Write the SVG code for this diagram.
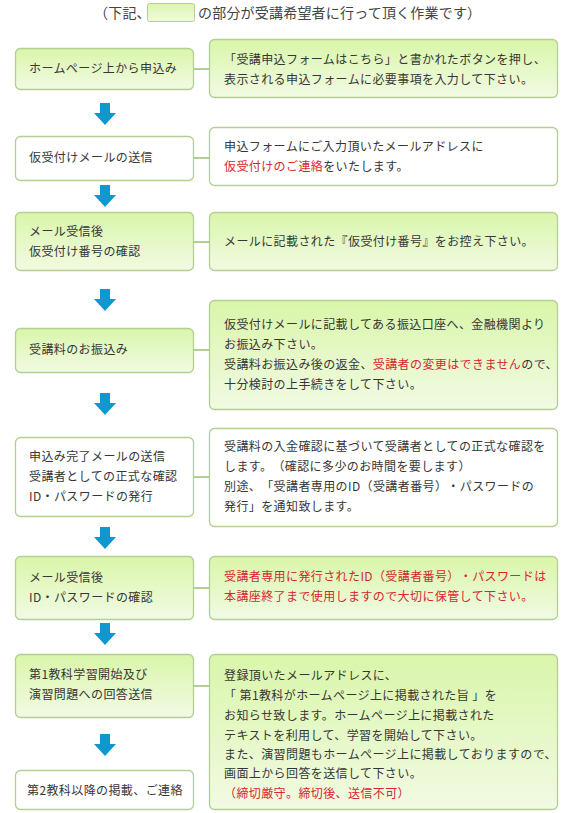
<svg xmlns="http://www.w3.org/2000/svg" width="575" height="813" viewBox="0 0 575 813">
<defs>
<linearGradient id="g" x1="0" y1="0" x2="0" y2="1">
<stop offset="0" stop-color="#d9f6a9"/>
<stop offset="1" stop-color="#f2fae4"/>
</linearGradient>
<path id="arr" d="M-5,0 H5 V10 H11 L0,22 L-11,10 H-5 Z"/>
</defs>
<style>
text{font-family:"Noto Sans CJK JP","Noto Sans",sans-serif;font-size:12px;fill:#363636;letter-spacing:0.4px;text-spacing-trim:space-all}
.hd{font-size:14px;fill:#444;letter-spacing:0.2px}
.r{fill:#d7262d}
.gb{fill:url(#g);stroke:#b3cf93;stroke-width:1.3}
.wb{fill:#fff;stroke:#b3cf93;stroke-width:1.3}
.ar{fill:#0e98cd}
.cn{stroke:#b3cf93;stroke-width:2;fill:none}
</style>
<rect width="575" height="813" fill="#fff"/>
<g id="header">
<text class="hd" x="94" y="18">（下記、</text>
<rect x="147.5" y="3.5" width="47" height="18" rx="2" fill="url(#g)" stroke="#b3cf93"/>
<text class="hd" x="198" y="18">の部分が受講希望者に行って頂く作業です）</text>
</g>
<g id="connectors">
<line class="cn" x1="194" y1="69" x2="209" y2="69"/>
<line class="cn" x1="194" y1="158" x2="209" y2="158"/>
<line class="cn" x1="194" y1="242" x2="209" y2="242"/>
<line class="cn" x1="194" y1="350" x2="209" y2="350"/>
<line class="cn" x1="194" y1="477" x2="209" y2="477"/>
<line class="cn" x1="194" y1="588" x2="209" y2="588"/>
<line class="cn" x1="194" y1="686" x2="209" y2="686"/>
<use class="ar" href="#arr" x="105" y="103"/>
<use class="ar" href="#arr" x="105" y="185"/>
<use class="ar" href="#arr" x="105" y="289"/>
<use class="ar" href="#arr" x="105" y="393"/>
<use class="ar" href="#arr" x="105" y="527"/>
<use class="ar" href="#arr" x="105" y="623"/>
<use class="ar" href="#arr" x="105" y="734"/>
</g>
<g id="n1">
<rect class="gb" x="15.5" y="48.5" width="178" height="41" rx="5"/>
<text x="29" y="73">ホームページ上から申込み</text>
</g>
<g id="d1">
<rect class="gb" x="209.5" y="39.5" width="348" height="58" rx="5"/>
<text x="224" y="64">「受講申込フォームはこちら」と書かれたボタンを押し、</text>
<text x="224" y="84">表示される申込フォームに必要事項を入力して下さい。</text>
</g>
<g id="n2">
<rect class="wb" x="15.5" y="136.5" width="178" height="44" rx="5"/>
<text x="29" y="162">仮受付けメールの送信</text>
</g>
<g id="d2">
<rect class="wb" x="209.5" y="127.5" width="348" height="58" rx="5"/>
<text x="224" y="151">申込フォームにご入力頂いたメールアドレスに</text>
<text x="224" y="171"><tspan class="r">仮受付けのご連絡</tspan>をいたします。</text>
</g>
<g id="n3">
<rect class="gb" x="15.5" y="212.5" width="178" height="58" rx="5"/>
<text x="29" y="236">メール受信後</text>
<text x="29" y="256">仮受付け番号の確認</text>
</g>
<g id="d3">
<rect class="gb" x="209.5" y="212.5" width="348" height="58" rx="5"/>
<text x="224" y="246">メールに記載された『仮受付け番号』をお控え下さい。</text>
</g>
<g id="n4">
<rect class="gb" x="15.5" y="328.5" width="178" height="44" rx="5"/>
<text x="29" y="354">受講料のお振込み</text>
</g>
<g id="d4">
<rect class="gb" x="209.5" y="300.5" width="348" height="109" rx="5"/>
<text x="224" y="329">仮受付けメールに記載してある振込口座へ、金融機関より</text>
<text x="224" y="349">お振込み下さい。</text>
<text x="224" y="369">受講料お振込み後の返金、<tspan class="r">受講者の変更はできません</tspan>ので、</text>
<text x="224" y="389">十分検討の上手続きをして下さい。</text>
</g>
<g id="n5">
<rect class="wb" x="15.5" y="437.5" width="178" height="79" rx="5"/>
<text x="29" y="461">申込み完了メールの送信</text>
<text x="29" y="481">受講者としての正式な確認</text>
<text x="29" y="501">ID・パスワードの発行</text>
</g>
<g id="d5">
<rect class="wb" x="209.5" y="428.5" width="348" height="98" rx="5"/>
<text x="224" y="451">受講料の入金確認に基づいて受講者としての正式な確認を</text>
<text x="224" y="471">します。（確認に多少のお時間を要します）</text>
<text x="224" y="491">別途、「受講者専用のID（受講者番号）・パスワードの</text>
<text x="224" y="511">発行」を通知致します。</text>
</g>
<g id="n6">
<rect class="gb" x="15.5" y="556.5" width="178" height="63" rx="5"/>
<text x="29" y="582">メール受信後</text>
<text x="29" y="602">ID・パスワードの確認</text>
</g>
<g id="d6">
<rect class="gb" x="209.5" y="556.5" width="348" height="63" rx="5"/>
<text class="r" x="224" y="581">受講者専用に発行されたID（受講者番号）・パスワードは</text>
<text class="r" x="224" y="601">本講座終了まで使用しますので大切に保管して下さい。</text>
</g>
<g id="n7">
<rect class="gb" x="15.5" y="654.5" width="178" height="63" rx="5"/>
<text x="29" y="679">第1教科学習開始及び</text>
<text x="29" y="699">演習問題への回答送信</text>
</g>
<g id="d7">
<rect class="gb" x="209.5" y="654.5" width="348" height="155" rx="5"/>
<text x="224" y="680">登録頂いたメールアドレスに、</text>
<text x="224" y="700">「 第1教科がホームページ上に掲載された旨 」を</text>
<text x="224" y="720">お知らせ致します。ホームページ上に掲載された</text>
<text x="224" y="740">テキストを利用して、学習を開始して下さい。</text>
<text x="224" y="759">また、演習問題もホームページ上に掲載しておりますので、</text>
<text x="224" y="778">画面上から回答を送信して下さい。</text>
<text class="r" x="224" y="798">（締切厳守。締切後、送信不可）</text>
</g>
<g id="n8">
<rect class="wb" x="15.5" y="770.5" width="178" height="39" rx="5"/>
<text x="27" y="795">第2教科以降の掲載、ご連絡</text>
</g>
</svg>
